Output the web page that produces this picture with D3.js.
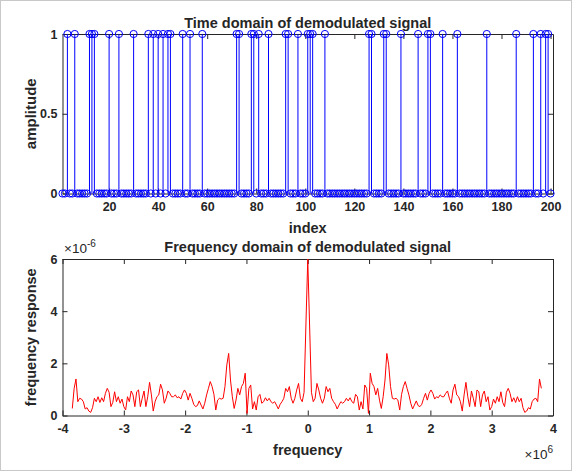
<!DOCTYPE html>
<html>
<head>
<meta charset="utf-8">
<script src="https://cdn.jsdelivr.net/npm/d3@7"></script>
<style>
  body { margin: 0; background: #fff; }
  text { font-family: "Liberation Sans", Arial, sans-serif; font-weight: bold; fill: #262626; }
</style>
</head>
<body>
<div id="chart"></div>
<script>
// ---- data: time domain (indices where the demodulated bit is 1) ----
var nSamples = 200;
var oneIdx = [3, 6, 12, 13, 14, 20, 24, 30, 36, 38, 40, 42, 44, 45, 50, 53, 58,
  72, 73, 78, 79, 81, 85, 92, 93, 97, 101, 102, 103, 108, 126, 127, 132, 133,
  139, 146, 150, 151, 156, 162, 174, 186, 193, 196, 198, 199];
var timeTicks = [20, 40, 60, 80, 100, 120, 140, 160, 180, 200];
var ampTicks = [0, 0.5, 1];

// ---- data: frequency domain, magnitude in units of 1e-6 ----
var binHz = 30000;
// bins -128 .. -1
var magNeg = [0.27, 1.04, 1.40, 0.53, 0.66, 0.63, 0.53, 0.25, 0.30, 0.17,
  0.12, 0.30, 0.66, 0.53, 0.72, 0.50, 0.68, 0.53, 0.85, 1.04,
  0.89, 0.34, 0.50, 0.91, 0.53, 0.72, 0.47, 0.63, 0.34, 0.21,
  0.72, 0.53, 0.94, 0.79, 0.34, 0.91, 0.98, 0.34, 0.66, 0.94,
  0.34, 0.72, 1.27, 0.79, 0.17, 0.53, 0.72, 0.79, 1.20, 0.98,
  0.47, 0.66, 0.94, 0.85, 0.72, 0.72, 0.79, 0.68, 0.72, 0.63,
  0.85, 0.98, 0.85, 0.59, 0.85, 0.66, 0.43, 0.34, 0.38, 0.56,
  0.40, 0.25, 0.47, 0.79, 1.04, 1.30, 1.11, 0.81, 0.21, 0.59,
  0.66, 0.63, 0.66, 1.11, 1.94, 2.38, 1.36, 0.72, 0.27, 0.59,
  1.04, 0.79, 1.11, 1.23, 1.62, 0.08, 1.04, 1.17, 0.25, 0.53,
  0.21, 0.72, 0.81, 0.47, 0.53, 0.68, 0.56, 0.66, 0.53, 0.47,
  0.53, 0.40, 0.25, 0.43, 0.53, 0.66, 1.04, 0.91, 1.11, 0.66,
  0.47, 0.66, 0.98, 1.23, 0.66, 0.53, 0.89, 3.47];
var magDC = 6.0;
// bins 1 .. 127
var magPos = [3.47, 0.89, 0.53, 0.66, 1.23, 0.98, 0.66, 0.47, 0.66, 1.11,
  0.91, 1.04, 0.66, 0.53, 0.43, 0.25, 0.40, 0.53, 0.47, 0.53,
  0.66, 0.56, 0.68, 0.53, 0.47, 0.81, 0.72, 0.21, 0.53, 0.25,
  1.17, 1.04, 0.08, 1.62, 1.23, 1.11, 0.79, 1.04, 0.59, 0.27,
  0.72, 1.36, 2.38, 1.94, 1.11, 0.66, 0.63, 0.66, 0.59, 0.21,
  0.81, 1.11, 1.30, 1.04, 0.79, 0.47, 0.25, 0.40, 0.56, 0.38,
  0.34, 0.43, 0.66, 0.85, 0.59, 0.85, 0.98, 0.85, 0.63, 0.72,
  0.68, 0.79, 0.72, 0.72, 0.85, 0.94, 0.66, 0.47, 0.98, 1.20,
  0.79, 0.72, 0.53, 0.17, 0.79, 1.27, 0.72, 0.34, 0.94, 0.66,
  0.34, 0.98, 0.91, 0.34, 0.79, 0.94, 0.53, 0.72, 0.21, 0.34,
  0.63, 0.47, 0.72, 0.53, 0.91, 0.50, 0.34, 0.89, 1.04, 0.85,
  0.53, 0.68, 0.50, 0.72, 0.53, 0.66, 0.30, 0.12, 0.17, 0.30,
  0.25, 0.53, 0.63, 0.66, 0.53, 1.40, 1.04];
var freqTicks = [-4, -3, -2, -1, 0, 1, 2, 3, 4];   // x 1e6
var respTicks = [0, 2, 4, 6];                       // x 1e-6

// build the series
var timeData = d3.range(1, nSamples + 1).map(function(i) {
  return { idx: i, value: oneIdx.indexOf(i) >= 0 ? 1 : 0 };
});
var mags = magNeg.concat([magDC], magPos);
var freqData = mags.map(function(m, j) {
  return { f: (j - magNeg.length) * binHz, m: m };
});

var svg = d3.select("#chart").append("svg")
  .attr("width", 573)
  .attr("height", 472);

svg.append("rect")
  .attr("x", 0.5).attr("y", 0.5)
  .attr("width", 571).attr("height", 470)
  .attr("fill", "#fff")
  .attr("stroke", "#c8c8c8");

function styleAxis(g) {
  g.selectAll("path").attr("stroke", "#262626");
  g.selectAll("line").attr("stroke", "#262626");
  g.selectAll("text").style("font-size", "12.5px").attr("fill", "#262626");
}
// plain hyphen minus like MATLAB
function plain(d) { return String(d); }

var labelSize = "14.5px";

// ================= top panel =================
var L = 62.5, R = 553;
var t1 = 34, b1 = 193.5;

var x1 = d3.scaleLinear().domain([1, 201]).range([L, R]);
var y1 = d3.scaleLinear().domain([0, 1]).range([b1, t1]);

var topPanel = svg.append("g");

topPanel.append("g")
  .attr("transform", "translate(0," + b1 + ")")
  .call(d3.axisBottom(x1).tickValues(timeTicks).tickSize(-5).tickSizeOuter(0).tickPadding(9).tickFormat(plain))
  .call(styleAxis);
topPanel.append("g")
  .attr("transform", "translate(0," + t1 + ")")
  .call(d3.axisTop(x1).tickValues(timeTicks).tickSize(-5).tickSizeOuter(0).tickFormat(""))
  .call(styleAxis);
topPanel.append("g")
  .attr("transform", "translate(" + L + ",0)")
  .call(d3.axisLeft(y1).tickValues(ampTicks).tickSize(-5).tickSizeOuter(0).tickPadding(5).tickFormat(plain))
  .call(styleAxis);
topPanel.append("g")
  .attr("transform", "translate(" + R + ",0)")
  .call(d3.axisRight(y1).tickValues(ampTicks).tickSize(-5).tickSizeOuter(0).tickFormat(""))
  .call(styleAxis);

// stems
topPanel.selectAll("line.stem")
  .data(timeData.filter(function(d) { return d.value !== 0; }))
  .enter().append("line")
  .attr("class", "stem")
  .attr("x1", function(d) { return x1(d.idx); })
  .attr("x2", function(d) { return x1(d.idx); })
  .attr("y1", y1(0))
  .attr("y2", function(d) { return y1(d.value); })
  .attr("stroke", "#0000ff")
  .attr("stroke-width", 1);

topPanel.selectAll("circle.mk")
  .data(timeData)
  .enter().append("circle")
  .attr("class", "mk")
  .attr("cx", function(d) { return x1(d.idx); })
  .attr("cy", function(d) { return y1(d.value); })
  .attr("r", 3.6)
  .attr("fill", "none")
  .attr("stroke", "#0000ff")
  .attr("stroke-width", 1);

topPanel.append("text")
  .attr("x", (L + R) / 2).attr("y", 28)
  .attr("text-anchor", "middle")
  .style("font-size", labelSize).attr("fill", "#000")
  .text("Time domain of demodulated signal");
topPanel.append("text")
  .attr("x", (L + R) / 2).attr("y", 233)
  .attr("text-anchor", "middle")
  .style("font-size", labelSize)
  .text("index");
topPanel.append("text")
  .attr("transform", "translate(36," + ((t1 + b1) / 2) + ") rotate(-90)")
  .attr("text-anchor", "middle")
  .style("font-size", "15px")
  .text("amplitude");

// ================= bottom panel =================
var t2 = 259, b2 = 415.5;
var x2 = d3.scaleLinear().domain([-4e6, 4e6]).range([L, R]);
var y2 = d3.scaleLinear().domain([0, 6]).range([b2, t2]);

var botPanel = svg.append("g");

botPanel.append("g")
  .attr("transform", "translate(0," + b2 + ")")
  .call(d3.axisBottom(x2).tickValues(freqTicks.map(function(v) { return v * 1e6; }))
    .tickSize(-5).tickSizeOuter(0).tickPadding(9)
    .tickFormat(function(d) { return String(Math.round(d / 1e6)); }))
  .call(styleAxis);
botPanel.append("g")
  .attr("transform", "translate(0," + t2 + ")")
  .call(d3.axisTop(x2).tickValues(freqTicks.map(function(v) { return v * 1e6; }))
    .tickSize(-5).tickSizeOuter(0).tickFormat(""))
  .call(styleAxis);
botPanel.append("g")
  .attr("transform", "translate(" + L + ",0)")
  .call(d3.axisLeft(y2).tickValues(respTicks).tickSize(-5).tickSizeOuter(0).tickPadding(5).tickFormat(plain))
  .call(styleAxis);
botPanel.append("g")
  .attr("transform", "translate(" + R + ",0)")
  .call(d3.axisRight(y2).tickValues(respTicks).tickSize(-5).tickSizeOuter(0).tickFormat(""))
  .call(styleAxis);

var line = d3.line()
  .x(function(d) { return x2(d.f); })
  .y(function(d) { return y2(d.m); });

botPanel.append("path")
  .datum(freqData)
  .attr("d", line)
  .attr("fill", "none")
  .attr("stroke", "#ff0000")
  .attr("stroke-width", 1);

botPanel.append("text")
  .attr("x", (L + R) / 2).attr("y", 252)
  .attr("text-anchor", "middle")
  .style("font-size", labelSize).attr("fill", "#000")
  .text("Frequency domain of demodulated signal");
botPanel.append("text")
  .attr("x", (L + R) / 2).attr("y", 455)
  .attr("text-anchor", "middle")
  .style("font-size", labelSize)
  .text("frequency");
botPanel.append("text")
  .attr("transform", "translate(36," + ((t2 + b2) / 2) + ") rotate(-90)")
  .attr("text-anchor", "middle")
  .style("font-size", labelSize)
  .text("frequency response");

// exponent labels
var e1 = botPanel.append("text")
  .attr("x", 64).attr("y", 253)
  .style("font-size", "13.5px").style("font-weight", "normal");
e1.append("tspan").text("\u00d710");
e1.append("tspan").attr("dy", -6).style("font-size", "10px").text("-6");

var e2 = botPanel.append("text")
  .attr("x", 553).attr("y", 459)
  .attr("text-anchor", "end")
  .style("font-size", "13.5px").style("font-weight", "normal");
e2.append("tspan").text("\u00d710");
e2.append("tspan").attr("dy", -6).style("font-size", "10px").text("6");
</script>
</body>
</html>
